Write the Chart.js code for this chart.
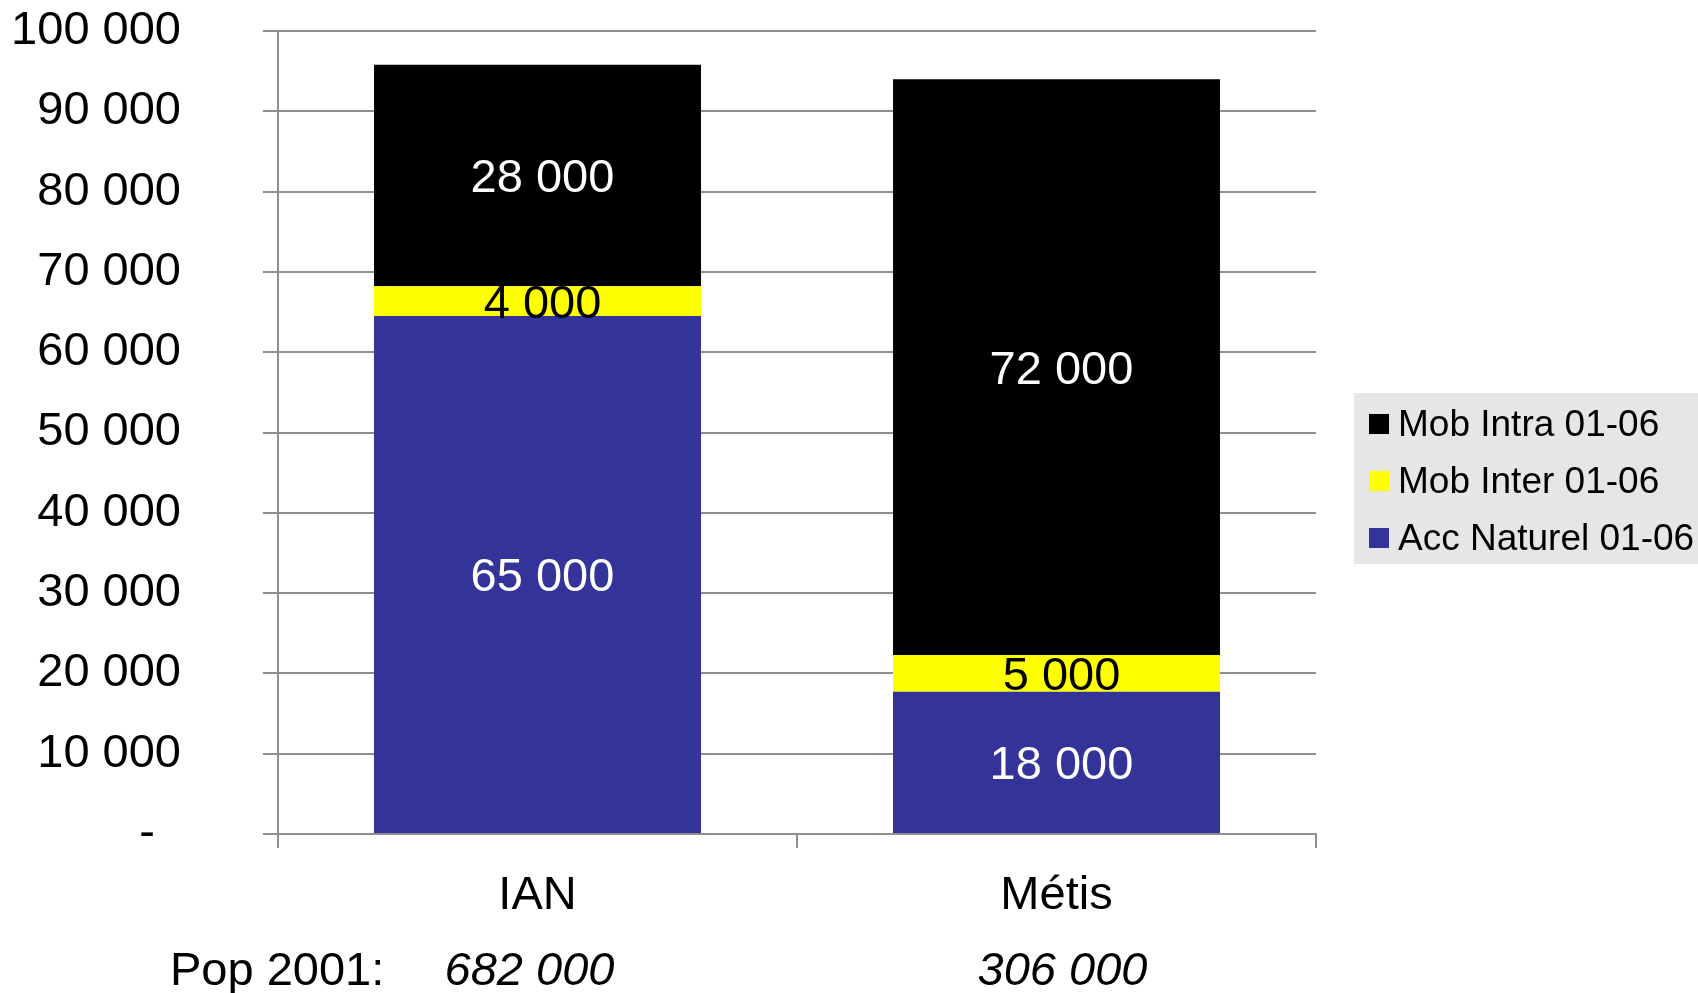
<!DOCTYPE html>
<html>
<head>
<meta charset="utf-8">
<script src="https://cdn.jsdelivr.net/npm/chart.js@4"></script>
<style>
  body { margin: 0; background: #fff; }
  #wrap { width: 1698px; height: 993px; }
</style>
</head>
<body>
<div id="wrap"><canvas id="myChart"></canvas></div>
<script>
// Donnees
var categories = ["IAN", "Métis"];
var accNaturel = [64500, 17700];
var mobInter = [3700, 4600];
var mobIntra = [27600, 71700];
var pop2001 = ["682 000", "306 000"];
var yTicks = [0, 10000, 20000, 30000, 40000, 50000, 60000, 70000, 80000, 90000, 100000];

var FONT = "'Liberation Sans', Arial, sans-serif";
var GRID = '#8e8e8e';

function fmt(v) {
    return String(v).replace(/\B(?=(\d{3})+(?!\d))/g, ' ');
}

// etiquettes des segments (arrondies au millier) + ligne "Pop 2001" + legende grise
var extras = {
    id: 'extras',
    afterDatasetsDraw(chart) {
        var ctx = chart.ctx;
        ctx.save();
        ctx.font = '47px ' + FONT;
        ctx.textAlign = 'center';
        ctx.textBaseline = 'middle';
        chart.data.datasets.forEach(function (ds, di) {
            var meta = chart.getDatasetMeta(di);
            meta.data.forEach(function (bar, i) {
                var mid = (bar.y + bar.base) / 2 + 4;
                ctx.fillStyle = ds.labelColor;
                ctx.fillText(fmt(Math.round(ds.data[i] / 1000) * 1000), bar.x + 5, mid);
            });
        });
        ctx.restore();
    },
    afterDraw(chart) {
        var ctx = chart.ctx;
        var x = chart.scales.x;
        ctx.save();
        ctx.fillStyle = '#000';
        ctx.textBaseline = 'middle';
        ctx.font = '47px ' + FONT;
        ctx.textAlign = 'left';
        ctx.fillText('Pop 2001:', 170, 972);
        ctx.font = 'italic 47px ' + FONT;
        ctx.textAlign = 'center';
        var shift = [-8, 6];
        pop2001.forEach(function (p, i) {
            ctx.fillText(p, x.getPixelForValue(i) + shift[i], 972);
        });

        // legende
        ctx.fillStyle = '#e6e6e6';
        ctx.fillRect(1354, 393, 344, 171);
        ctx.font = '37px ' + FONT;
        ctx.textAlign = 'left';
        var list = chart.data.datasets.slice().reverse();
        list.forEach(function (ds, i) {
            var cy = 424 + i * 57;
            ctx.fillStyle = ds.backgroundColor;
            ctx.fillRect(1369, cy - 10, 20, 20);
            ctx.fillStyle = '#000';
            ctx.fillText(ds.label, 1398, cy + 2);
        });
        ctx.restore();
    }
};

var ctx = document.getElementById('myChart').getContext('2d');
var myChart = new Chart(ctx, {
    type: 'bar',
    data: {
        labels: categories,
        datasets: [
            { label: 'Acc Naturel 01-06', data: accNaturel, backgroundColor: '#333399', labelColor: '#ffffff' },
            { label: 'Mob Inter 01-06', data: mobInter, backgroundColor: '#ffff00', labelColor: '#000000' },
            { label: 'Mob Intra 01-06', data: mobIntra, backgroundColor: '#000000', labelColor: '#ffffff' }
        ]
    },
    options: {
        responsive: true,
        maintainAspectRatio: false,
        animation: false,
        layout: { padding: { left: 0, right: 382, top: 31, bottom: 0 } },
        datasets: { bar: { barPercentage: 0.63, categoryPercentage: 1, borderWidth: 0 } },
        scales: {
            x: {
                stacked: true,
                offset: true,
                grid: { offset: true, drawOnChartArea: false, drawTicks: true, tickLength: 14, color: GRID, lineWidth: 2 },
                border: { color: GRID, width: 2 },
                ticks: { color: '#000', font: { family: FONT, size: 47 }, padding: 20, maxRotation: 0, autoSkip: false },
                afterFit(s) { s.height = 159; s.paddingLeft = 0; s.paddingRight = 0; s.paddingTop = 0; s.paddingBottom = 0; }
            },
            y: {
                stacked: true,
                min: 0,
                max: 100000,
                afterBuildTicks(s) { s.ticks = yTicks.map(function (v) { return { value: v }; }); },
                grid: { color: GRID, lineWidth: 2, tickLength: 15 },
                border: { color: GRID, width: 2 },
                ticks: {
                    color: '#000',
                    font: { family: FONT, size: 47 },
                    padding: 82,
                    callback: function (v) { return v === 0 ? '-  ' : fmt(v); }
                },
                afterFit(s) { s.width = 278; s.paddingTop = 0; s.paddingBottom = 0; s.paddingLeft = 0; s.paddingRight = 0; }
            }
        },
        plugins: {
            legend: { display: false },
            tooltip: { enabled: false }
        }
    },
    plugins: [extras]
});
</script>
</body>
</html>
